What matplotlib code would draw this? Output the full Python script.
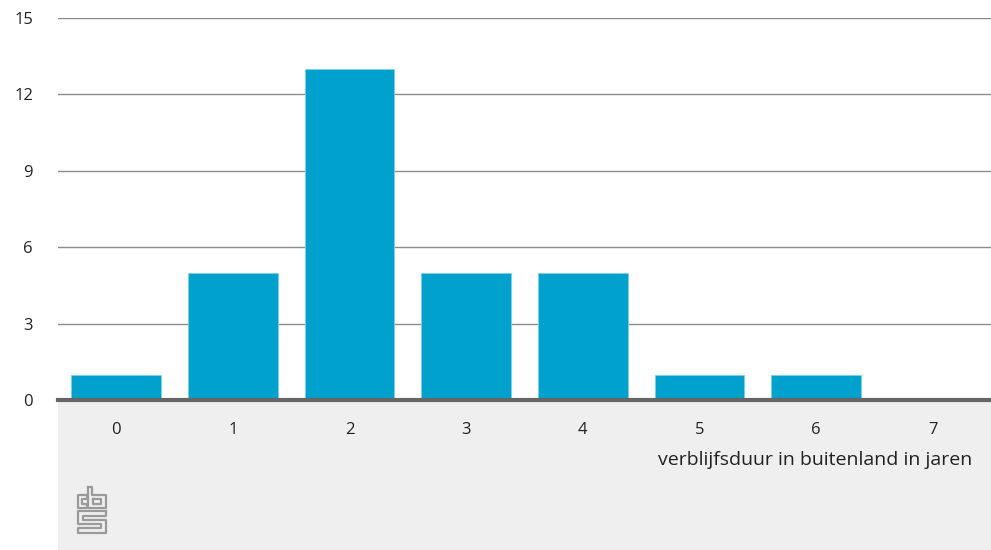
import matplotlib.pyplot as plt
from matplotlib.patches import Rectangle

plt.rcParams['font.family'] = ['Open Sans', 'DejaVu Sans']

jaren = [0, 1, 2, 3, 4, 5, 6, 7]
aantal = [1, 5, 13, 5, 5, 1, 1, 0]
yticks = [0, 3, 6, 9, 12, 15]
xlabel = "verblijfsduur in buitenland in jaren"

fig = plt.figure(figsize=(9.91, 5.5), dpi=100)
left = 58 / 991
bottom = 150 / 550
top = (550 - 18) / 550

# grey band under the plot
fig.patches.append(Rectangle((left, 0), 1 - left, bottom, transform=fig.transFigure,
                             facecolor='#efefef', edgecolor='none', zorder=-5))

ax = fig.add_axes([left, bottom, 1 - left, top - bottom])
ax.bar(jaren, aantal, width=0.77, color='#00a1cd', edgecolor='#7fcfe6', linewidth=0.6, zorder=3)

ax.set_xlim(-0.5, 7.5)
ax.set_ylim(0, 15)
ax.set_yticks(yticks)
ax.set_xticks(jaren)
ax.grid(axis='y', color='#8c8c8c', linewidth=1)
ax.set_axisbelow(True)
for s in ['top', 'right', 'left']:
    ax.spines[s].set_visible(False)
ax.spines['bottom'].set_color('#666666')
ax.spines['bottom'].set_linewidth(3)
ax.spines['bottom'].set_zorder(4)
ax.tick_params(axis='both', length=0, labelsize=12, colors='#222222')
ax.tick_params(axis='x', pad=16)
ax.tick_params(axis='y', pad=18)
ax.patch.set_alpha(0)

fig.text(972 / 991, 1 - 460 / 550, xlabel, ha='right', va='center', fontsize=14, color='#222222')

# cbs logo, outline only
lc = '#9a9a9a'
lw = 1.6
def seg(xs, ys):
    fig.add_artist(plt.Line2D([x / 991 for x in xs], [1 - y / 550 for y in ys],
                              color=lc, linewidth=lw, transform=fig.transFigure))
seg([87, 78, 78, 87, 87, 82, 82, 87, 87], [495, 495, 508, 508, 504, 504, 499, 499, 495])
seg([88, 92, 92, 106, 106, 88, 88], [487, 487, 495, 495, 508, 508, 487])
seg([93, 101, 101, 93, 93], [499, 499, 504, 504, 499])
seg([106, 78, 78, 101, 101, 78, 78, 106, 106, 83, 83, 106, 106],
    [511, 511, 524, 524, 528, 528, 533, 533, 520, 520, 516, 516, 511])

fig.savefig('out.png', dpi=100)
